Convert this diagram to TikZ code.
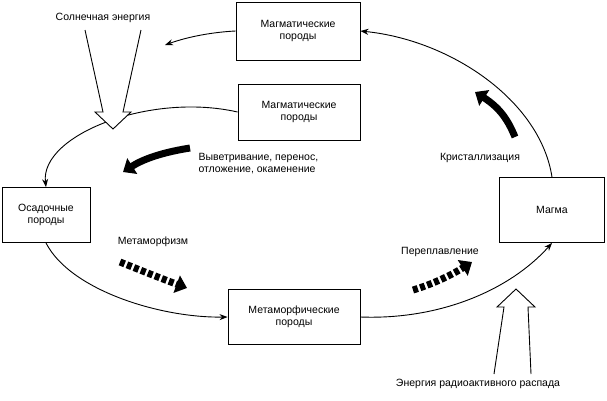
\documentclass[tikz,border=0pt]{standalone}
\usepackage{fontspec}
\setmainfont{Liberation Sans}
\usetikzlibrary{arrows.meta}
\begin{document}
\begin{tikzpicture}[x=1pt,y=-1pt,font=\fontsize{10.5}{12}\selectfont,
  box/.style={draw,line width=0.9pt,align=center,inner sep=0pt},
  flow/.style={line width=0.9pt,-{Stealth[length=8pt,width=6pt]}},
  fat/.style={line width=7pt,-{Triangle[length=11pt,width=18pt]}},
  fatdash/.style={fat,dash pattern=on 5pt off 2.5pt}]
\useasboundingbox (0,0) rectangle (607,400);
% boxes
\node[box,minimum width=124pt,minimum height=58pt] (mag1) at (298,31) {Магматические\\породы};
\node[box,minimum width=122pt,minimum height=56pt] (mag2) at (299,112) {Магматические\\породы};
\node[box,minimum width=88pt,minimum height=55pt] (sed) at (46,215) {Осадочные\\породы};
\node[box,minimum width=105pt,minimum height=65pt] (magma) at (552,210) {Магма};
\node[box,minimum width=132pt,minimum height=55pt] (meta) at (294,317) {Метаморфические\\породы};
% cycle
\coordinate (c1) at (165,45);
\draw[flow] (magma.north) .. controls (540,100) and (450,40) .. (mag1.east);
\draw[flow] (mag1.west) .. controls (215,32) and (190,36) .. (c1);
\draw[flow] (mag2.west) .. controls (150,92) and (40,135) .. (sed.north);
\draw[flow] (sed.south) .. controls (70,290) and (160,318) .. (meta.west);
\draw[flow] (meta.east) .. controls (440,320) and (510,290) .. (magma.south);
% labels
\node (sun) at (103,18) {Солнечная энергия};
\node[align=left,anchor=west] (weath) at (195,164) {Выветривание, перенос,\\отложение, окаменение};
\node (cryst) at (480,158) {Кристаллизация};
\node (metam) at (153,242) {Метаморфизм};
\node (remelt) at (440,252) {Переплавление};
\node[fill=white,inner sep=1pt] (rad) at (478,384) {Энергия радиоактивного распада};
% hollow arrows
\draw[line width=0.9pt,fill=white,line join=miter] (85,30) -- (103,112) -- (95,112) -- (113,129) -- (131,112) -- (123,112) -- (141,30);
\draw[line width=0.9pt,fill=white] (494,374) -- (504,307) -- (497,307) -- (516,289) -- (535,307) -- (528,307) -- (531,374);
% process arrows
\draw[fat] (190,148) .. controls (165,152) and (145,158) .. (123,172);
\draw[fat] (515,137) .. controls (508,120) and (500,108) .. (475,92);
\draw[fatdash] (120,262) .. controls (140,270) and (160,278) .. (187,288);
\draw[fatdash] (413,290) .. controls (430,285) and (450,276) .. (472,262);
\end{tikzpicture}
\end{document}
